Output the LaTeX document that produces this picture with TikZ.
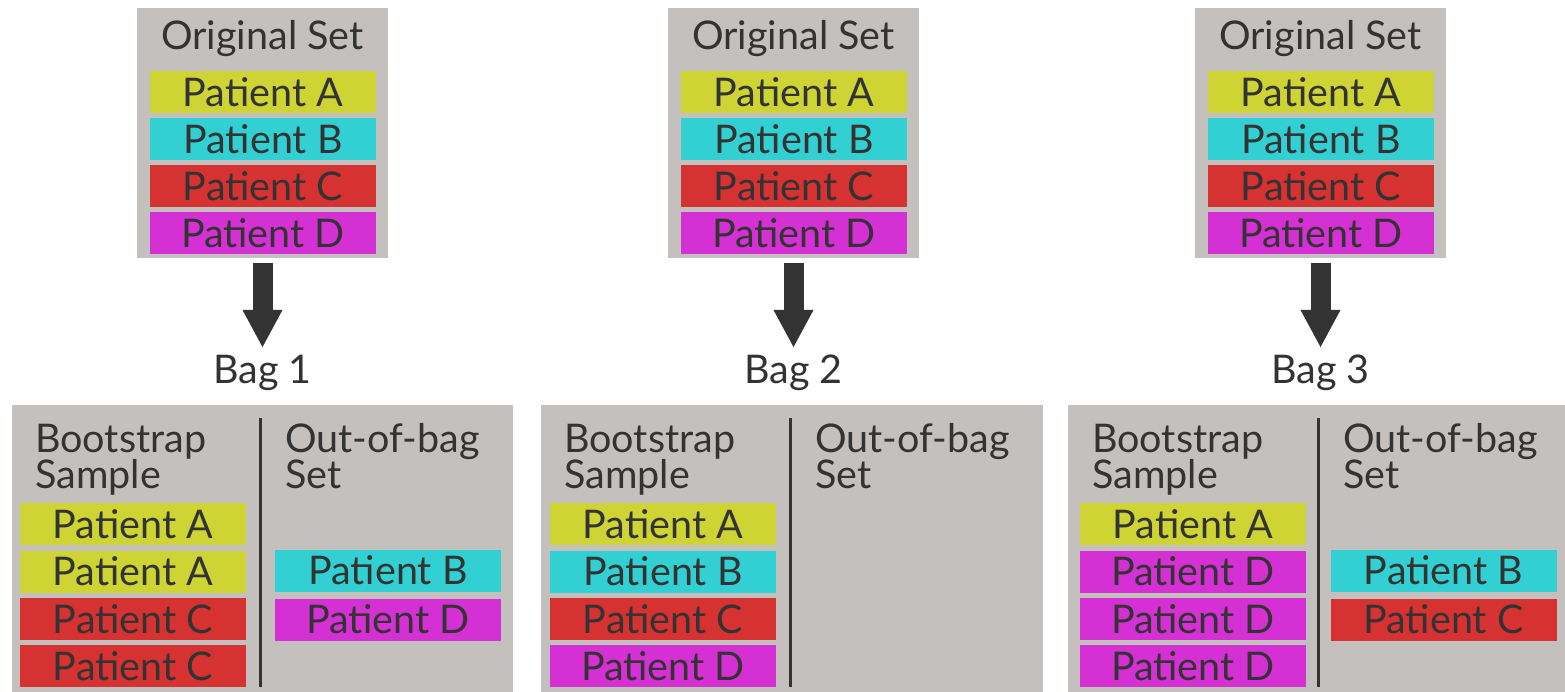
\documentclass[tikz,border=0pt]{standalone}
\usepackage{fontspec}
\setmainfont{Lato}
\usetikzlibrary{arrows.meta}
\definecolor{boxgray}{HTML}{C4C0BE}
\definecolor{ca}{HTML}{CED434}
\definecolor{cb}{HTML}{32D0D2}
\definecolor{cc}{HTML}{D63232}
\definecolor{cd}{HTML}{D430D4}
\definecolor{ink}{HTML}{333333}
\newcommand{\bigfont}{\fontsize{39.5}{44}\selectfont}
\begin{document}
\begin{tikzpicture}[x=1pt,y=-1pt,
  panel/.style={fill=boxgray, draw=none, inner sep=0pt},
  txt/.style={text=ink, font=\bigfont, inner sep=0pt},
  bar/.style={fill=#1, draw=none, inner sep=0pt, minimum width=226pt, minimum height=42pt, text=ink, font=\bigfont},
  bigarrow/.style={draw=ink, line width=20pt, shorten <=5pt, -{Triangle[width=40pt,length=37pt,line width=0pt]}},
  divider/.style={draw=ink, line width=3pt}
]
\useasboundingbox (0,0) rectangle (1565,692);
\fill[white] (0,0) rectangle (1565,692);

% top boxes
\foreach \i/\cx in {1/262.5, 2/793.5, 3/1320.5} {
  \node[panel, minimum width=251pt, minimum height=250pt] (top\i) at (\cx,133) {};
  \node[txt, anchor=base] (orig\i) at (\cx,50) {Original Set};
  \node[bar=ca] (t\i a) at (\cx+0.5,92) {Patient A};
  \node[bar=cb] (t\i b) at (\cx+0.5,139.5) {Patient B};
  \node[bar=cc] (t\i c) at (\cx+0.5,186.5) {Patient C};
  \node[bar=cd] (t\i d) at (\cx+0.5,233.5) {Patient D};
  \coordinate (tip\i) at (\cx,347);
  \draw[bigarrow] (top\i.south) -- (tip\i);
  \node[txt, anchor=base] (bag\i) at (\cx,383) {Bag \i};
}

% bottom box 1
\node[panel, anchor=north west, minimum width=501pt, minimum height=287pt] (bot1) at (12,405) {};
\draw[divider] (260,418) -- (260,687);
\node[txt, anchor=base west] (bs1a) at (35,452) {Bootstrap};
\node[txt, anchor=base west] (bs1b) at (35,488) {Sample};
\node[txt, anchor=base west] (ob1a) at (285,452) {Out-of-bag};
\node[txt, anchor=base west] (ob1b) at (285,488) {Set};
\node[bar=ca] (b1l1) at (133,524) {Patient A};
\node[bar=ca] (b1l2) at (133,571.5) {Patient A};
\node[bar=cc] (b1l3) at (133,619) {Patient C};
\node[bar=cc] (b1l4) at (133,666) {Patient C};
\node[bar=cb] (b1r1) at (388,570.5) {Patient B};
\node[bar=cd] (b1r2) at (388,619.5) {Patient D};

% bottom box 2
\node[panel, anchor=north west, minimum width=502pt, minimum height=287pt] (bot2) at (541,405) {};
\draw[divider] (790,418) -- (790,687);
\node[txt, anchor=base west] (bs2a) at (564,452) {Bootstrap};
\node[txt, anchor=base west] (bs2b) at (564,488) {Sample};
\node[txt, anchor=base west] (ob2a) at (815,452) {Out-of-bag};
\node[txt, anchor=base west] (ob2b) at (815,488) {Set};
\node[bar=ca] (b2l1) at (663,524) {Patient A};
\node[bar=cb] (b2l2) at (663,571.5) {Patient B};
\node[bar=cc] (b2l3) at (663,619) {Patient C};
\node[bar=cd] (b2l4) at (663,666) {Patient D};

% bottom box 3
\node[panel, anchor=north west, minimum width=497pt, minimum height=287pt] (bot3) at (1068,405) {};
\draw[divider] (1318,418) -- (1318,687);
\node[txt, anchor=base west] (bs3a) at (1092,452) {Bootstrap};
\node[txt, anchor=base west] (bs3b) at (1092,488) {Sample};
\node[txt, anchor=base west] (ob3a) at (1343,452) {Out-of-bag};
\node[txt, anchor=base west] (ob3b) at (1343,488) {Set};
\node[bar=ca] (b3l1) at (1193,524) {Patient A};
\node[bar=cd] (b3l2) at (1193,571.5) {Patient D};
\node[bar=cd] (b3l3) at (1193,619) {Patient D};
\node[bar=cd] (b3l4) at (1193,666) {Patient D};
\node[bar=cb] (b3r1) at (1443.5,570.5) {Patient B};
\node[bar=cc] (b3r2) at (1443.5,619.5) {Patient C};
\end{tikzpicture}
\end{document}
